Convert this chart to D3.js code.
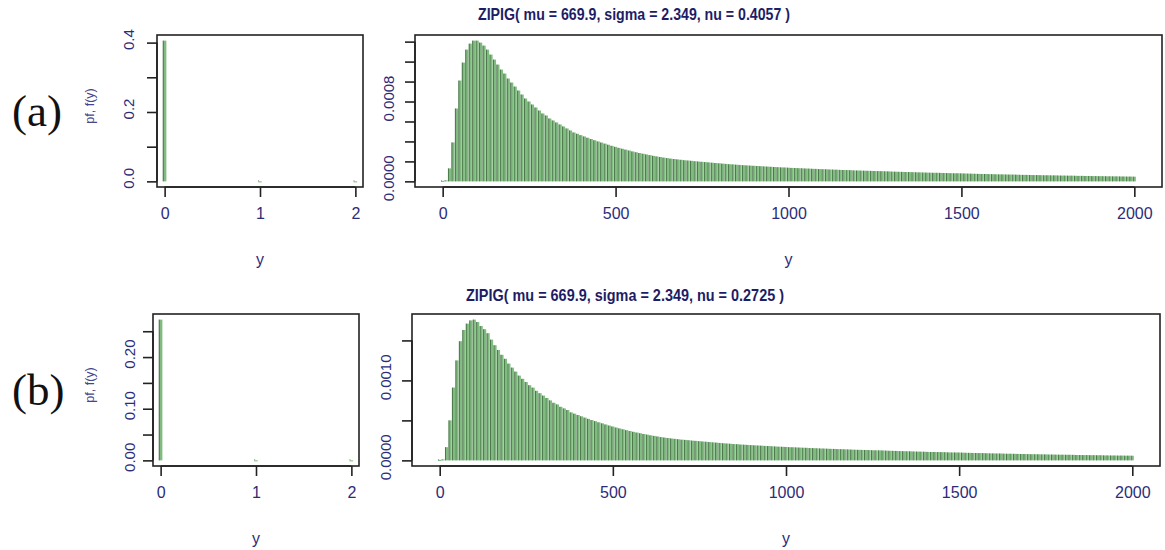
<!DOCTYPE html>
<html>
<head>
<meta charset="utf-8">
<script src="https://cdn.jsdelivr.net/npm/d3@7"></script>
<style>
  body { margin: 0; background: #fff; }
  svg { display: block; }
  text { font-family: "Liberation Sans", Arial, sans-serif; }
</style>
</head>
<body>
<div id="chart"></div>
<script>

// support points of the two panels
const yZero = [0, 1, 2];
const yCounts = d3.range(0, 2001, 10);

// left panels: mass near zero
const zeroA = [0.4057, 0.000004, 0.000003];
const zeroB = [0.2725, 0.000005, 0.000004];

// right panels: pf, y = 0, 10, ..., 2000
const pmfA = [
  0.000005, 0.00001, 0.00013, 0.00039, 0.00073, 0.00101, 0.00119, 0.00132, 0.00138, 0.00141,
  0.00141, 0.00139, 0.00136, 0.00132, 0.00127, 0.00122, 0.00117, 0.00112, 0.00108, 0.00103,
  0.00099, 0.00095, 0.00091, 0.00087, 0.00083, 0.00080, 0.00077, 0.00074, 0.00071, 0.00068,
  0.00066, 0.00063, 0.00061, 0.00059, 0.00057, 0.00055, 0.00053, 0.00051, 0.00049, 0.000477,
  0.000463, 0.00045, 0.000437, 0.000424, 0.000412, 0.0004, 0.000389, 0.000378, 0.000367, 0.000356,
  0.000346, 0.000336, 0.000327, 0.000318, 0.000309, 0.0003, 0.000292, 0.000284, 0.000277, 0.00027,
  0.000263, 0.000256, 0.00025, 0.000244, 0.000238, 0.000233, 0.000228, 0.000224, 0.00022, 0.000216,
  0.000212, 0.000209, 0.000206, 0.000202, 0.000199, 0.000196, 0.000193, 0.00019, 0.000187, 0.000184,
  0.000181, 0.000178, 0.000175, 0.000172, 0.00017, 0.000167, 0.000165, 0.000162, 0.00016, 0.000158,
  0.000156, 0.000154, 0.000152, 0.00015, 0.000148, 0.000146, 0.000144, 0.000142, 0.00014, 0.000139,
  0.000137, 0.000135, 0.000134, 0.000132, 0.000131, 0.000129, 0.000128, 0.000126, 0.000125, 0.000123,
  0.000122, 0.000121, 0.000119, 0.000118, 0.000117, 0.000115, 0.000114, 0.000113, 0.000112, 0.00011,
  0.000109, 0.000108, 0.000107, 0.000106, 0.000105, 0.000104, 0.000103, 0.000102, 0.000101, 0.0001,
  0.000098, 0.000097, 0.000096, 0.000095, 0.000094, 0.000093, 0.000092, 0.000091, 0.00009, 0.000089,
  0.000088, 0.000087, 0.000086, 0.000086, 0.000085, 0.000084, 0.000083, 0.000082, 0.000081, 0.000081,
  0.00008, 0.000079, 0.000078, 0.000077, 0.000076, 0.000075, 0.000074, 0.000074, 0.000073, 0.000072,
  0.000071, 0.00007, 0.00007, 0.000069, 0.000068, 0.000068, 0.000067, 0.000066, 0.000065, 0.000065,
  0.000064, 0.000063, 0.000063, 0.000062, 0.000061, 0.000061, 0.00006, 0.00006, 0.000059, 0.000058,
  0.000058, 0.000057, 0.000057, 0.000056, 0.000055, 0.000055, 0.000054, 0.000054, 0.000053, 0.000053,
  0.000052, 0.000052, 0.000051, 0.000051, 0.00005, 0.00005, 0.000049, 0.000049, 0.000048, 0.000048,
  0.000047
];

const pmfB = [
  0.000006, 0.000012, 0.000165, 0.0005, 0.00091, 0.00125, 0.00149, 0.00163, 0.00171, 0.00175,
  0.00176, 0.00173, 0.00168, 0.00164, 0.00159, 0.00151, 0.00144, 0.00138, 0.00132, 0.00127,
  0.00121, 0.00116, 0.00111, 0.00106, 0.00102, 0.00098, 0.00094, 0.00091, 0.00087, 0.00084,
  0.00081, 0.00078, 0.00075, 0.00072, 0.0007, 0.00067, 0.00065, 0.00063, 0.0006, 0.000584,
  0.000567, 0.000551, 0.000535, 0.000519, 0.000504, 0.00049, 0.000476, 0.000463, 0.000449, 0.000436,
  0.000424, 0.000411, 0.0004, 0.000389, 0.000378, 0.000367, 0.000357, 0.000348, 0.000339, 0.00033,
  0.000322, 0.000313, 0.000306, 0.000299, 0.000291, 0.000285, 0.000279, 0.000274, 0.000269, 0.000264,
  0.000259, 0.000256, 0.000252, 0.000247, 0.000244, 0.00024, 0.000236, 0.000233, 0.000229, 0.000225,
  0.000222, 0.000218, 0.000214, 0.000211, 0.000208, 0.000204, 0.000202, 0.000198, 0.000196, 0.000193,
  0.000191, 0.000188, 0.000186, 0.000184, 0.000181, 0.000179, 0.000176, 0.000174, 0.000171, 0.00017,
  0.000168, 0.000165, 0.000164, 0.000162, 0.00016, 0.000158, 0.000157, 0.000154, 0.000153, 0.000151,
  0.000149, 0.000148, 0.000146, 0.000144, 0.000143, 0.000141, 0.00014, 0.000138, 0.000137, 0.000135,
  0.000133, 0.000132, 0.000131, 0.00013, 0.000129, 0.000127, 0.000126, 0.000125, 0.000124, 0.000122,
  0.00012, 0.000119, 0.000118, 0.000116, 0.000115, 0.000114, 0.000113, 0.000111, 0.00011, 0.000109,
  0.000108, 0.000106, 0.000105, 0.000105, 0.000104, 0.000103, 0.000102, 0.0001, 0.000099, 0.000099,
  0.000098, 0.000097, 0.000095, 0.000094, 0.000093, 0.000092, 0.000091, 0.000091, 0.000089, 0.000088,
  0.000087, 0.000086, 0.000086, 0.000084, 0.000083, 0.000083, 0.000082, 0.000081, 0.00008, 0.00008,
  0.000078, 0.000077, 0.000077, 0.000076, 0.000075, 0.000075, 0.000073, 0.000073, 0.000072, 0.000071,
  0.000071, 0.00007, 0.00007, 0.000069, 0.000067, 0.000067, 0.000066, 0.000066, 0.000065, 0.000065,
  0.000064, 0.000064, 0.000062, 0.000062, 0.000061, 0.000061, 0.00006, 0.00006, 0.000059, 0.000059,
  0.000058
];

// axis ticks and which of them get a label
const zeroXTicks = [0, 1, 2];
const zeroYTicksA = [0, 0.1, 0.2, 0.3, 0.4];
const zeroYLabelsA = [0, 0.2, 0.4];
const zeroYTicksB = [0, 0.05, 0.1, 0.15, 0.2, 0.25];
const zeroYLabelsB = [0, 0.1, 0.2];
const countXTicks = [0, 500, 1000, 1500, 2000];
const countYTicksA = [0, 0.0002, 0.0004, 0.0006, 0.0008, 0.001, 0.0012, 0.0014];
const countYLabelsA = [0, 0.0008];
const countYTicksB = [0, 0.0005, 0.001, 0.0015];
const countYLabelsB = [0, 0.001];

const titleA = "ZIPIG( mu = 669.9, sigma = 2.349, nu = 0.4057 )";
const titleB = "ZIPIG( mu = 669.9, sigma = 2.349, nu = 0.2725 )";

const W = 1165, H = 550;
const navy = "#2c2c78";

const svg = d3.select("#chart").append("svg")
    .attr("width", W)
    .attr("height", H);

// R style axis range: data range widened by 4% each side
function rRange(lo, hi){
    let d = (hi - lo) * 0.04;
    return [lo - d, hi + d];
}

const panels = [
    {frame: {x0: 157, x1: 363, y0: 35, y1: 187}, xs: yZero, ps: zeroA, xlim: [0, 2],
     xTicks: zeroXTicks, yTicks: zeroYTicksA, yLabels: zeroYLabelsA, fmt: d3.format(".1f"),
     yLabelDx: -29, barW: 3.5, ylab: true},
    {frame: {x0: 415, x1: 1162, y0: 35, y1: 187}, xs: yCounts, ps: pmfA, xlim: [0, 2000],
     xTicks: countXTicks, yTicks: countYTicksA, yLabels: countYLabelsA, fmt: d3.format(".4f"),
     yLabelDx: -27, barW: 3.0, ylab: false},
    {frame: {x0: 153, x1: 359, y0: 314, y1: 466}, xs: yZero, ps: zeroB, xlim: [0, 2],
     xTicks: zeroXTicks, yTicks: zeroYTicksB, yLabels: zeroYLabelsB, fmt: d3.format(".2f"),
     yLabelDx: -24, barW: 3.5, ylab: true},
    {frame: {x0: 412, x1: 1160, y0: 314, y1: 466}, xs: yCounts, ps: pmfB, xlim: [0, 2000],
     xTicks: countXTicks, yTicks: countYTicksB, yLabels: countYLabelsB, fmt: d3.format(".4f"),
     yLabelDx: -27, barW: 3.0, ylab: false}
];

panels.forEach(p => drawPanel(p));

function drawPanel(p){
    let f = p.frame;
    let x = d3.scaleLinear().domain(rRange(p.xlim[0], p.xlim[1])).range([f.x0, f.x1]);
    let y = d3.scaleLinear().domain(rRange(0, d3.max(p.ps))).range([f.y1, f.y0]);
    let g = svg.append("g");

    let data = p.xs.map((v, i) => ({v: v, p: p.ps[i]}));

    // bars: green fill with a dark left edge
    let bars = g.append("g");
    bars.selectAll("rect")
        .data(data)
        .join("rect")
        .attr("x", d => x(d.v) - p.barW / 2)
        .attr("y", d => y(d.p))
        .attr("width", p.barW)
        .attr("height", d => Math.max(y(0) - y(d.p), 1))
        .attr("fill", "#80bb80");
    bars.selectAll("line")
        .data(data)
        .join("line")
        .attr("x1", d => x(d.v) - p.barW / 2 + 0.35)
        .attr("x2", d => x(d.v) - p.barW / 2 + 0.35)
        .attr("y1", y(0))
        .attr("y2", d => Math.min(y(d.p), y(0) - 1))
        .attr("stroke", "#30552f")
        .attr("stroke-width", 0.7);

    // frame
    g.append("rect")
        .attr("x", f.x0).attr("y", f.y0)
        .attr("width", f.x1 - f.x0).attr("height", f.y1 - f.y0)
        .attr("fill", "none")
        .attr("stroke", "#222")
        .attr("stroke-width", 1.6);

    // x axis
    let xAxis = g.append("g")
        .attr("transform", `translate(0,${f.y1})`)
        .call(d3.axisBottom(x).tickValues(p.xTicks).tickSize(10).tickPadding(11).tickFormat(d3.format("d")));
    xAxis.select(".domain").attr("d", `M${x(p.xTicks[0])},0H${x(p.xTicks[p.xTicks.length - 1])}`)
        .attr("stroke", "#222").attr("stroke-width", 1.6);
    xAxis.selectAll(".tick line").attr("stroke", "#222").attr("stroke-width", 1.6);
    xAxis.selectAll(".tick text")
        .attr("fill", navy)
        .style("font-size", "16px");

    // y axis: ticks only, labels drawn rotated
    let yAxis = g.append("g")
        .attr("transform", `translate(${f.x0},0)`)
        .call(d3.axisLeft(y).tickValues(p.yTicks).tickSize(10).tickFormat(""));
    yAxis.select(".domain").attr("d", `M0,${y(p.yTicks[0])}V${y(p.yTicks[p.yTicks.length - 1])}`)
        .attr("stroke", "#222").attr("stroke-width", 1.6);
    yAxis.selectAll(".tick line").attr("stroke", "#222").attr("stroke-width", 1.6);

    g.append("g").selectAll("text")
        .data(p.yLabels)
        .join("text")
        .attr("transform", d => `translate(${f.x0 + p.yLabelDx},${y(d) - 3}) rotate(-90)`)
        .attr("text-anchor", "middle")
        .attr("dominant-baseline", "central")
        .attr("fill", navy)
        .style("font-size", "15px")
        .text(d => p.fmt(d));

    // axis titles
    g.append("text")
        .attr("x", (x(p.xlim[0]) + x(p.xlim[1])) / 2)
        .attr("y", f.y1 + 72)
        .attr("text-anchor", "middle")
        .attr("dominant-baseline", "central")
        .attr("fill", navy)
        .style("font-size", "16px")
        .text("y");

    if (p.ylab){
        g.append("text")
            .attr("transform", `translate(90,${(f.y0 + f.y1) / 2 - 5}) rotate(-90)`)
            .attr("text-anchor", "middle")
            .attr("dominant-baseline", "central")
            .attr("fill", "#46468c")
            .style("font-size", "12.5px")
            .text("pf, f(y)");
    }
}

// main titles
svg.append("text")
    .attr("x", 478).attr("y", 20)
    .attr("fill", "#1d1d66")
    .attr("font-weight", "bold")
    .attr("textLength", 312)
    .attr("lengthAdjust", "spacingAndGlyphs")
    .style("font-size", "16.5px")
    .text(titleA);
svg.append("text")
    .attr("x", 466).attr("y", 301)
    .attr("fill", "#1d1d66")
    .attr("font-weight", "bold")
    .attr("textLength", 318)
    .attr("lengthAdjust", "spacingAndGlyphs")
    .style("font-size", "16.5px")
    .text(titleB);

// panel letters
svg.append("text")
    .attr("x", 12).attr("y", 126)
    .style("font-family", "'Liberation Serif', 'DejaVu Serif', serif")
    .style("font-size", "45px")
    .attr("fill", "#111")
    .text("(a)");
svg.append("text")
    .attr("x", 12).attr("y", 405)
    .style("font-family", "'Liberation Serif', 'DejaVu Serif', serif")
    .style("font-size", "45px")
    .attr("fill", "#111")
    .text("(b)");

</script>
</body>
</html>
